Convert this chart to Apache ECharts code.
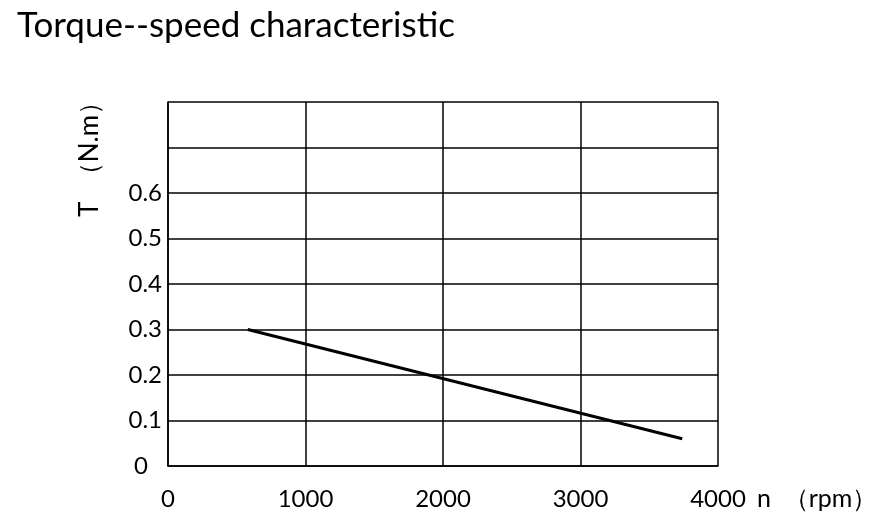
<!DOCTYPE html>
<html><head><meta charset="utf-8">
<script src="https://cdn.jsdelivr.net/npm/echarts@6/dist/echarts.min.js"></script>
<style>html,body{margin:0;padding:0;background:#fff}#c{width:880px;height:526px}</style>
</head><body><div id="c"></div>
<script>
const titleText = 'Torque--speed characteristic';
const speed = [580, 3740];
const torque = [0.30, 0.06];
const xTicks = [0, 1000, 2000, 3000, 4000];
const yTicks = [0, 0.1, 0.2, 0.3, 0.4, 0.5, 0.6];
const xName = 'n  （rpm）';
const yName = 'T  （N.m）';

const chart = echarts.init(document.getElementById('c'));
const F = 'Lato, "Noto Sans", sans-serif';
chart.setOption({
  animation: false,
  backgroundColor: '#fff',
  title: { text: titleText, left: 12, top: 3, textStyle: { fontFamily: F, fontSize: 35, fontWeight: 'normal', color: '#000' } },
  grid: { left: 168, right: 162, top: 102, bottom: 60 },
  xAxis: {
    type: 'value', min: 0, max: 4000, interval: 1000,
    axisLine: { show: true, lineStyle: { color: '#000', width: 1.5 } },
    axisTick: { show: false },
    axisLabel: { fontFamily: F, fontSize: 24, color: '#000', margin: 21,
      formatter: v => xTicks.includes(v) ? String(v) : '' },
    splitLine: { show: true, lineStyle: { color: '#000', width: 1.5 } }
  },
  yAxis: {
    type: 'value', min: 0, max: 0.8, interval: 0.1,
    axisLine: { show: true, lineStyle: { color: '#000', width: 1.5 } },
    axisTick: { show: false },
    axisLabel: { fontFamily: F, fontSize: 24, color: '#000', margin: 6,
      formatter: v => {
        const r = Math.round(v * 10) / 10;
        if (r === 0) return '{z|0}';
        return yTicks.includes(r) ? r.toFixed(1) : '';
      },
      rich: { z: { fontFamily: F, fontSize: 24, color: '#000', padding: [0, 14, 0, 0] } } },
    splitLine: { show: true, lineStyle: { color: '#000', width: 1.5 } }
  },
  graphic: [
    { type: 'text', left: 757, top: 486, style: { text: xName, fontFamily: F, fontSize: 25, fill: '#000' } },
    { type: 'text', x: 77, y: 217, rotation: Math.PI / 2, style: { text: yName, fontFamily: F, fontSize: 26, fill: '#000' } }
  ],
  series: [{
    type: 'line', data: speed.map((s, i) => [s, torque[i]]),
    showSymbol: false, symbol: 'none',
    lineStyle: { color: '#000', width: 3 }
  }]
});
</script></body></html>
